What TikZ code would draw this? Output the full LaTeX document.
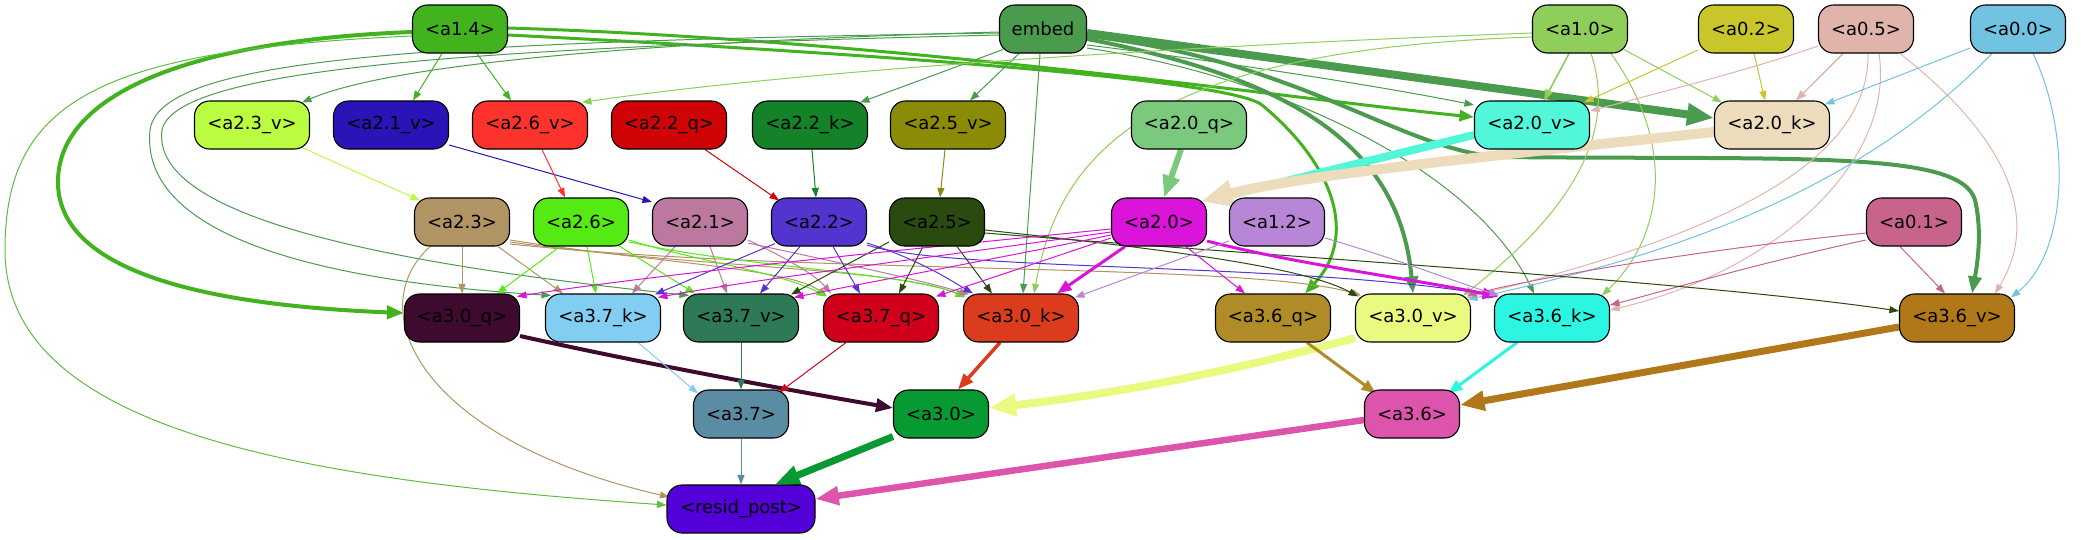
\documentclass[tikz,border=0pt]{standalone}
\usepackage{fontspec}
\setmainfont{DejaVu Sans}
\usetikzlibrary{arrows.meta}
\pgfdeclarelayer{background}
\pgfsetlayers{background,main}
\definecolor{c14}{HTML}{42B21F}
\definecolor{cem}{HTML}{4B9B4E}
\definecolor{c10}{HTML}{8FCE5A}
\definecolor{c02}{HTML}{C8C62A}
\definecolor{c05}{HTML}{E0B4AA}
\definecolor{c00}{HTML}{72C2E2}
\definecolor{c23v}{HTML}{B9FC42}
\definecolor{c21v}{HTML}{2A14B8}
\definecolor{c26v}{HTML}{FC332C}
\definecolor{c22q}{HTML}{D00406}
\definecolor{c22k}{HTML}{138228}
\definecolor{c25v}{HTML}{8A8C08}
\definecolor{c20q}{HTML}{7BC97D}
\definecolor{c20v}{HTML}{52F7DA}
\definecolor{c20k}{HTML}{EDDCBB}
\definecolor{c23}{HTML}{B09463}
\definecolor{c26}{HTML}{56EA14}
\definecolor{c21}{HTML}{BD789F}
\definecolor{c22}{HTML}{5434CF}
\definecolor{c25}{HTML}{2A4A10}
\definecolor{c20}{HTML}{DA14D8}
\definecolor{c12}{HTML}{B886D6}
\definecolor{c01}{HTML}{C8648C}
\definecolor{c30q}{HTML}{3E0A2E}
\definecolor{c37k}{HTML}{82CEF2}
\definecolor{c37v}{HTML}{2F7A56}
\definecolor{c37q}{HTML}{D0001A}
\definecolor{c30k}{HTML}{DC3C1E}
\definecolor{c36q}{HTML}{B08C28}
\definecolor{c30v}{HTML}{EAFA80}
\definecolor{c36k}{HTML}{2CF6E2}
\definecolor{c36v}{HTML}{B07818}
\definecolor{c37}{HTML}{5A8CA4}
\definecolor{c30}{HTML}{089A32}
\definecolor{c36}{HTML}{DC54AC}
\definecolor{cres}{HTML}{5400D8}
\tikzset{
  box/.style={draw=black, line width=1.1pt, rounded corners=15pt, minimum height=48pt,
    inner sep=2pt, font=\fontsize{18}{21}\selectfont, text=black},
  sw/.style={box, minimum width=95pt},
  mw/.style={box, minimum width=115pt},
  ed/.style={-{Triangle[length=7pt 2.5,width=5pt 2]}, line width=1pt},
}
\begin{document}
\begin{tikzpicture}[x=1pt,y=-1pt]
\useasboundingbox (0,0) rectangle (2088,539);
% row 1
\node[sw, fill=c14] (a14) at (460,29) {<a1.4>};
\node[box, minimum width=87pt, fill=cem] (embed) at (1043,29) {embed};
\node[sw, fill=c10] (a10) at (1580,29) {<a1.0>};
\node[sw, fill=c02] (a02) at (1746,29) {<a0.2>};
\node[sw, fill=c05] (a05) at (1866,29) {<a0.5>};
\node[sw, fill=c00] (a00) at (2018,29) {<a0.0>};
% row 2
\node[mw, fill=c23v] (a23v) at (252,125) {<a2.3\_v>};
\node[mw, fill=c21v] (a21v) at (391,125) {<a2.1\_v>};
\node[mw, fill=c26v] (a26v) at (530,125) {<a2.6\_v>};
\node[mw, fill=c22q] (a22q) at (669,125) {<a2.2\_q>};
\node[mw, fill=c22k] (a22k) at (810,125) {<a2.2\_k>};
\node[mw, fill=c25v] (a25v) at (948,125) {<a2.5\_v>};
\node[mw, fill=c20q] (a20q) at (1189,125) {<a2.0\_q>};
\node[mw, fill=c20v] (a20v) at (1532,125) {<a2.0\_v>};
\node[mw, fill=c20k] (a20k) at (1772,125) {<a2.0\_k>};
% row 3
\node[sw, fill=c23] (a23) at (462,222) {<a2.3>};
\node[sw, fill=c26] (a26) at (581,222) {<a2.6>};
\node[sw, fill=c21] (a21) at (700,222) {<a2.1>};
\node[sw, fill=c22] (a22) at (819,222) {<a2.2>};
\node[sw, fill=c25] (a25) at (937,222) {<a2.5>};
\node[sw, fill=c20] (a20) at (1159,222) {<a2.0>};
\node[sw, fill=c12] (a12) at (1277,222) {<a1.2>};
\node[sw, fill=c01] (a01) at (1914,222) {<a0.1>};
% row 4
\node[mw, fill=c30q] (a30q) at (462,318) {<a3.0\_q>};
\node[mw, fill=c37k] (a37k) at (603,318) {<a3.7\_k>};
\node[mw, fill=c37v] (a37v) at (741,318) {<a3.7\_v>};
\node[mw, fill=c37q] (a37q) at (881,318) {<a3.7\_q>};
\node[mw, fill=c30k] (a30k) at (1021,318) {<a3.0\_k>};
\node[mw, fill=c36q] (a36q) at (1273,318) {<a3.6\_q>};
\node[mw, fill=c30v] (a30v) at (1413,318) {<a3.0\_v>};
\node[mw, fill=c36k] (a36k) at (1552,318) {<a3.6\_k>};
\node[mw, fill=c36v] (a36v) at (1957,318) {<a3.6\_v>};
% row 5
\node[sw, fill=c37] (a37) at (741,414) {<a3.7>};
\node[sw, fill=c30] (a30) at (941,414) {<a3.0>};
\node[sw, fill=c36] (a36) at (1412,414) {<a3.6>};
% row 6
\node[box, minimum width=148pt, fill=cres] (resid) at (741,509) {<resid\_post>};

\begin{pgfonlayer}{background}
% from a1.4
\draw[ed, c14] ([xshift=-18pt]a14.south) -- ([xshift=22pt]a21v.north);
\draw[ed, c14] ([xshift=17pt]a14.south) -- ([xshift=-19pt]a26v.north);
\draw[ed, c14, line width=4pt] ([yshift=-3pt]a14.west) .. controls (200,40) and (60,90) .. (58,180) .. controls (56,270) and (200,305) .. ([yshift=5pt]a30q.west);
\draw[ed, c14!85!white] ([yshift=-7pt]a14.west) .. controls (100,50) and (5,100) .. (5,250) .. controls (5,430) and (300,480) .. ([yshift=4pt]resid.west);
\draw[ed, c14, line width=3pt] ([yshift=1pt]a14.east) .. controls (900,40) and (1300,100) .. ([yshift=8pt]a20v.west);
\draw[ed, c14, line width=3pt] ([yshift=-6pt]a14.east) .. controls (900,55) and (1230,80) .. (1262,105) .. controls (1340,170) and (1355,240) .. ([xshift=32pt]a36q.north);
% from embed
\draw[ed, cem] ([yshift=-3pt]embed.west) .. controls (700,40) and (400,60) .. ([xshift=50pt,yshift=-2pt]a23v.north);
\draw[ed, cem] ([yshift=-4pt]embed.west) .. controls (400,42) and (160,60) .. (150,130) .. controls (140,230) and (300,280) .. ([xshift=-52pt,yshift=-2pt]a37k.north);
\draw[ed, cem] ([yshift=-6pt]embed.west) .. controls (450,48) and (175,70) .. (162,130) .. controls (150,220) and (400,265) .. ([xshift=-52pt,yshift=-2pt]a37v.north);
\draw[ed, cem] ([xshift=4pt,yshift=4pt]embed.south west) -- ([xshift=50pt,yshift=-2pt]a22k.north);
\draw[ed, cem] ([xshift=-24pt]embed.south) -- ([xshift=22pt]a25v.north);
\draw[ed, cem] ([xshift=-3pt]embed.south) -- ([xshift=2pt]a30k.north);
\draw[ed, cem, line width=8pt] ([yshift=-4pt]embed.east) -- ([yshift=7pt]a20k.west);
\draw[ed, cem, line width=4pt] ([yshift=-10pt]embed.east) .. controls (1300,80) and (1400,150) .. (a30v.north);
\draw[ed, cem, line width=4pt] ([yshift=-7pt]embed.east) .. controls (1300,60) and (1400,150) .. (1500,157) .. controls (1800,160) and (1960,150) .. (1975,200) .. controls (1982,230) and (1978,260) .. ([xshift=15pt]a36v.north);
\draw[ed, cem] ([yshift=-16pt]embed.east) .. controls (1250,65) and (1400,90) .. ([yshift=20pt]a20v.west);
\draw[ed, cem] ([yshift=-19pt]embed.east) .. controls (1300,80) and (1480,180) .. ([xshift=-18pt]a36k.north);
% from a1.0
\draw[ed, c10, line width=1.6pt] ([xshift=-11pt]a10.south) -- ([xshift=12pt]a20v.north);
\draw[ed, c10] ([xshift=-4pt,yshift=4pt]a10.south east) -- ([xshift=-50pt,yshift=-2pt]a20k.north);
\draw[ed, c10] ([yshift=-4pt]a10.west) .. controls (1200,45) and (800,70) .. ([xshift=52pt,yshift=-2pt]a26v.north);
\draw[ed, c10] ([yshift=-8pt]a10.west) .. controls (1150,50) and (1060,150) .. ([xshift=13pt]a30k.north);
\draw[ed, c10] ([xshift=11pt]a10.south) .. controls (1620,140) and (1560,220) .. ([xshift=50pt,yshift=-2pt]a30v.north);
\draw[ed, c10] ([xshift=31pt]a10.south) .. controls (1680,150) and (1660,240) .. ([xshift=50pt,yshift=-2pt]a36k.north);
% from a0.2
\draw[ed, c02] ([yshift=-21pt]a02.west) -- ([xshift=52pt,yshift=-2pt]a20v.north);
\draw[ed, c02] ([xshift=8pt]a02.south) -- ([xshift=-7pt]a20k.north);
% from a0.5
\draw[ed, c05, line width=1.4pt] ([xshift=-23pt]a05.south) -- ([xshift=24pt]a20k.north);
\draw[ed, c05] ([yshift=-17pt]a05.west) .. controls (1750,70) and (1650,95) .. ([yshift=14pt]a20v.east);
\draw[ed, c05] ([xshift=2pt]a05.south) .. controls (1870,170) and (1700,240) .. ([xshift=53pt,yshift=-4pt]a30v.north);
\draw[ed, c05] ([xshift=13pt]a05.south) .. controls (1895,160) and (1780,270) .. ([yshift=8pt]a36k.east);
\draw[ed, c05] ([xshift=34pt]a05.south) .. controls (2010,140) and (2040,220) .. ([xshift=38pt]a36v.north);
% from a0.0
\draw[ed, c00] ([yshift=-19pt]a00.west) -- ([xshift=53pt,yshift=-4pt]a20k.north);
\draw[ed, c00] ([xshift=-26pt]a00.south) .. controls (1850,200) and (1650,260) .. ([xshift=55pt,yshift=-6pt]a30v.north);
\draw[ed, c00] ([xshift=15pt]a00.south) .. controls (2070,130) and (2070,250) .. ([xshift=54pt,yshift=-4pt]a36v.north);
% from a0.1
\draw[ed, c01] ([yshift=-11pt]a01.west) .. controls (1700,250) and (1550,275) .. ([xshift=54pt,yshift=-2pt]a30v.north);
\draw[ed, c01] ([yshift=-18pt]a01.west) .. controls (1750,265) and (1650,295) .. ([yshift=13pt]a36k.east);
\draw[ed, c01] ([xshift=-14pt]a01.south) -- ([xshift=-12pt]a36v.north);
% row 2 -> row 3
\draw[ed, c23v] ([xshift=50pt,yshift=2pt]a23v.south) -- ([xshift=-42pt,yshift=-3pt]a23.north);
\draw[ed, c21v] ([yshift=-20pt]a21v.east) -- ([yshift=20pt]a21.west);
\draw[ed, c26v] ([xshift=12pt]a26v.south) -- ([xshift=-16pt]a26.north);
\draw[ed, c22q] ([xshift=36pt]a22q.south) -- ([xshift=-40pt,yshift=-3pt]a22.north);
\draw[ed, c22k] ([xshift=2pt]a22k.south) -- ([xshift=-3pt]a22.north);
\draw[ed, c25v] ([xshift=-3pt]a25v.south) -- ([xshift=3pt]a25.north);
\draw[ed, c20q, line width=6pt] ([xshift=-8pt]a20q.south) -- ([xshift=5pt]a20.north);
\draw[ed, c20v, line width=8pt] ([yshift=-10pt]a20v.west) -- ([xshift=44pt,yshift=-4pt]a20.north);
\draw[ed, c20k, line width=10pt] ([yshift=-7pt]a20k.west) .. controls (1500,155) and (1300,175) .. ([xshift=42pt,yshift=-4pt]a20.north);
% a2.3
\draw[ed, c23] (a23.south) -- (a30q.north);
\draw[ed, c23] ([xshift=36pt]a23.south) -- ([xshift=-40pt]a37k.north);
\draw[ed, c23] ([xshift=-32pt]a23.south) .. controls (360,310) and (420,440) .. ([xshift=3pt,yshift=12pt]resid.west);
\draw[ed, c23] ([yshift=-18pt]a23.east) .. controls (650,262) and (790,268) .. ([xshift=-54pt,yshift=-3pt]a37q.north);
\draw[ed, c23] ([yshift=-20pt]a23.east) .. controls (700,268) and (900,268) .. ([xshift=-56pt,yshift=-4pt]a30k.north);
\draw[ed, c23] ([yshift=-22pt]a23.east) .. controls (800,275) and (1250,262) .. ([xshift=-52pt,yshift=-2pt]a30v.north);
% a2.6
\draw[ed, c26] ([xshift=-21pt]a26.south) -- ([xshift=35pt]a30q.north);
\draw[ed, c26] ([xshift=6pt]a26.south) -- ([xshift=-7pt]a37k.north);
\draw[ed, c26] ([xshift=36pt,yshift=2pt]a26.south) -- ([xshift=-46pt]a37v.north);
\draw[ed, c26] ([yshift=-18pt]a26.east) .. controls (700,262) and (780,272) .. ([xshift=-55pt,yshift=-3pt]a37q.north);
\draw[ed, c26] ([yshift=-20pt]a26.east) .. controls (750,268) and (900,272) .. ([xshift=-55pt,yshift=-3pt]a30k.north);
% a2.1
\draw[ed, c21] ([xshift=-25pt]a21.south) -- ([xshift=29pt]a37k.north);
\draw[ed, c21] ([xshift=10pt]a21.south) -- ([xshift=-14pt]a37v.north);
\draw[ed, c21] ([yshift=-18pt]a21.east) .. controls (790,260) and (815,275) .. ([xshift=-50pt]a37q.north);
\draw[ed, c21] ([yshift=-21pt]a21.east) .. controls (850,265) and (920,280) .. ([xshift=-52pt,yshift=-1pt]a30k.north);
% a2.2
\draw[ed, c22] ([xshift=-44pt,yshift=3pt]a22.south) -- ([xshift=52pt,yshift=-1pt]a37k.north);
\draw[ed, c22] ([xshift=-19pt]a22.south) -- ([xshift=19pt]a37v.north);
\draw[ed, c22] ([xshift=14pt]a22.south) -- ([xshift=-21pt]a37q.north);
\draw[ed, c22] ([yshift=-21pt]a22.east) .. controls (920,260) and (950,280) .. ([xshift=-48pt]a30k.north);
\draw[ed, c22] ([yshift=-23pt]a22.east) .. controls (950,272) and (1300,262) .. ([xshift=-54pt,yshift=-3pt]a36k.north);
% a2.5
\draw[ed, c25] ([yshift=-20pt]a25.west) -- ([xshift=50pt,yshift=-1pt]a37v.north);
\draw[ed, c25] ([xshift=-14pt]a25.south) -- ([xshift=18pt]a37q.north);
\draw[ed, c25] ([xshift=20pt]a25.south) -- ([xshift=-29pt]a30k.north);
\draw[ed, c25] ([yshift=-8pt]a25.east) .. controls (1150,248) and (1300,265) .. ([xshift=-55pt,yshift=-3pt]a30v.north);
\draw[ed, c25] ([yshift=-11pt]a25.east) .. controls (1300,258) and (1700,282) .. ([yshift=7pt]a36v.west);
% a2.0
\draw[ed, c20] ([yshift=-7pt]a20.west) .. controls (900,250) and (650,275) .. ([xshift=55pt,yshift=-3pt]a30q.north);
\draw[ed, c20] ([yshift=-10pt]a20.west) .. controls (950,255) and (750,280) .. ([xshift=55pt,yshift=-4pt]a37k.north);
\draw[ed, c20] ([yshift=-13pt]a20.west) .. controls (1000,258) and (880,280) .. ([xshift=53pt,yshift=-4pt]a37v.north);
\draw[ed, c20] ([yshift=-16pt]a20.west) -- ([xshift=55pt,yshift=-3pt]a37q.north);
\draw[ed, c20, line width=3pt] ([xshift=-34pt]a20.south) -- ([xshift=36pt]a30k.north);
\draw[ed, c20] ([xshift=27pt]a20.south) -- ([xshift=-28pt]a36q.north);
\draw[ed, c20, line width=3pt] ([yshift=-19pt]a20.east) .. controls (1300,265) and (1420,280) .. ([xshift=-55pt,yshift=-3pt]a36k.north);
% a1.2
\draw[ed, c12] ([yshift=-19pt]a12.west) -- ([xshift=54pt,yshift=-4pt]a30k.north);
\draw[ed, c12] ([yshift=-16pt]a12.east) .. controls (1400,260) and (1450,280) .. ([xshift=-53pt,yshift=-2pt]a36k.north);
% row 4 -> row 5
\draw[ed, c30q, line width=4pt] ([yshift=-18pt]a30q.east) .. controls (650,365) and (800,392) .. ([yshift=6pt]a30.west);
\draw[ed, c37k] ([xshift=35pt]a37k.south) -- ([xshift=-43pt,yshift=-4pt]a37.north);
\draw[ed, c37v] (a37v.south) -- (a37.north);
\draw[ed, c37q] ([xshift=-35pt]a37q.south) -- ([xshift=38pt,yshift=-3pt]a37.north);
\draw[ed, c30k, line width=3.5pt] ([xshift=-21pt]a30k.south) -- ([xshift=17pt]a30.north);
\draw[ed, c30v, line width=8pt] ([yshift=-20pt]a30v.west) .. controls (1200,380) and (1080,398) .. ([yshift=6pt]a30.east);
\draw[ed, c36q, line width=3pt] ([xshift=34pt]a36q.south) -- ([xshift=-36pt,yshift=-4pt]a36.north);
\draw[ed, c36k, line width=3pt] ([xshift=-35pt]a36k.south) -- ([xshift=36pt,yshift=-4pt]a36.north);
\draw[ed, c36v, line width=7pt] ([yshift=-9pt]a36v.west) -- ([yshift=9pt]a36.east);
% row 5 -> resid
\draw[ed, c37] (a37.south) -- (resid.north);
\draw[ed, c30, line width=7pt] ([xshift=-48pt,yshift=2pt]a30.south) -- ([xshift=34pt]resid.north);
\draw[ed, c36, line width=6.5pt] ([yshift=-6pt]a36.west) -- ([yshift=10pt]resid.east);
\end{pgfonlayer}
\end{tikzpicture}
\end{document}
